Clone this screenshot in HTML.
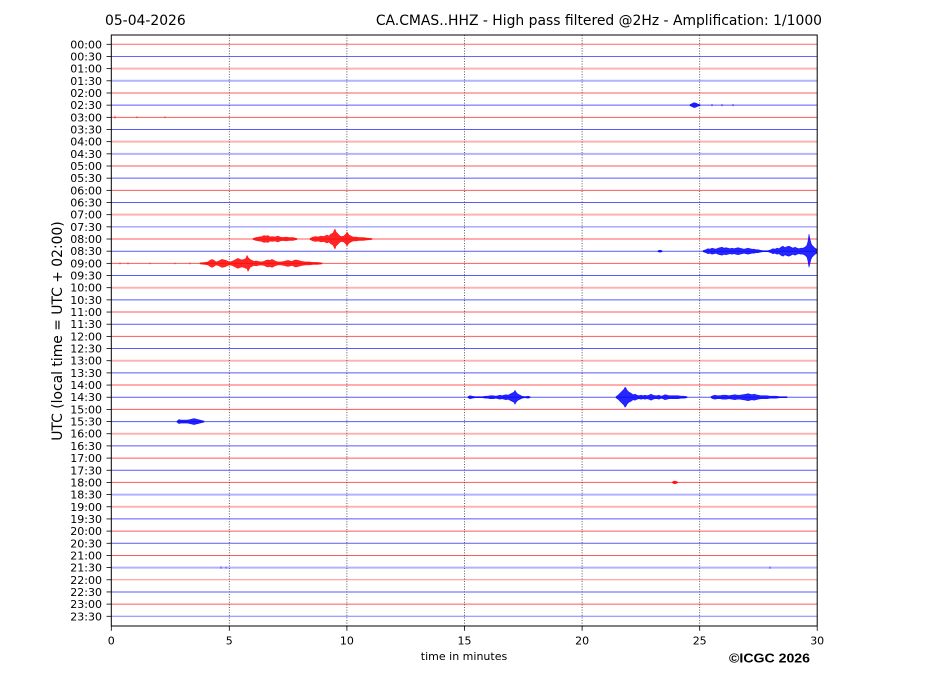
<!DOCTYPE html>
<html><head><meta charset="utf-8"><style>
html,body{margin:0;padding:0;background:#fff;}
svg{display:block;}
text{font-family:"DejaVu Sans","Liberation Sans",sans-serif;fill:#000;}
</style></head><body>
<svg width="927" height="696" viewBox="0 0 927 696" xmlns="http://www.w3.org/2000/svg">
<rect width="927" height="696" fill="#fff"/>
<!-- titles -->
<text x="105" y="25" font-size="13.9">05-04-2026</text>
<text x="822" y="25" font-size="13.9" text-anchor="end">CA.CMAS..HHZ - High pass filtered @2Hz - Amplification: 1/1000</text>
<!-- row lines -->
<g stroke-width="1">
<line x1="111.3" x2="817" y1="44.3" y2="44.3" stroke="#ff0000" stroke-opacity="0.6"/>
<line x1="111.3" x2="817" y1="56.47" y2="56.47" stroke="#0000ff" stroke-opacity="0.6"/>
<line x1="111.3" x2="817" y1="68.64" y2="68.64" stroke="#ff0000" stroke-opacity="0.3" stroke-width="2"/>
<line x1="111.3" x2="817" y1="80.81" y2="80.81" stroke="#0000ff" stroke-opacity="0.3" stroke-width="2"/>
<line x1="111.3" x2="817" y1="92.98" y2="92.98" stroke="#ff0000" stroke-opacity="0.65"/>
<line x1="111.3" x2="817" y1="105.15" y2="105.15" stroke="#0000ff" stroke-opacity="0.65"/>
<line x1="111.3" x2="817" y1="117.32" y2="117.32" stroke="#ff0000" stroke-opacity="0.65"/>
<line x1="111.3" x2="817" y1="129.49" y2="129.49" stroke="#0000ff" stroke-opacity="0.65"/>
<line x1="111.3" x2="817" y1="141.66" y2="141.66" stroke="#ff0000" stroke-opacity="0.3" stroke-width="2"/>
<line x1="111.3" x2="817" y1="153.83" y2="153.83" stroke="#0000ff" stroke-opacity="0.3" stroke-width="2"/>
<line x1="111.3" x2="817" y1="166.0" y2="166.0" stroke="#ff0000" stroke-opacity="0.65"/>
<line x1="111.3" x2="817" y1="178.17" y2="178.17" stroke="#0000ff" stroke-opacity="0.65"/>
<line x1="111.3" x2="817" y1="190.34" y2="190.34" stroke="#ff0000" stroke-opacity="0.65"/>
<line x1="111.3" x2="817" y1="202.51" y2="202.51" stroke="#0000ff" stroke-opacity="0.65"/>
<line x1="111.3" x2="817" y1="214.68" y2="214.68" stroke="#ff0000" stroke-opacity="0.3" stroke-width="2"/>
<line x1="111.3" x2="817" y1="226.85" y2="226.85" stroke="#0000ff" stroke-opacity="0.5"/>
<line x1="111.3" x2="817" y1="239.02" y2="239.02" stroke="#ff0000" stroke-opacity="0.65"/>
<line x1="111.3" x2="817" y1="251.19" y2="251.19" stroke="#0000ff" stroke-opacity="0.65"/>
<line x1="111.3" x2="817" y1="263.36" y2="263.36" stroke="#ff0000" stroke-opacity="0.65"/>
<line x1="111.3" x2="817" y1="275.53" y2="275.53" stroke="#0000ff" stroke-opacity="0.65"/>
<line x1="111.3" x2="817" y1="287.7" y2="287.7" stroke="#ff0000" stroke-opacity="0.3" stroke-width="2"/>
<line x1="111.3" x2="817" y1="299.87" y2="299.87" stroke="#0000ff" stroke-opacity="0.65"/>
<line x1="111.3" x2="817" y1="312.04" y2="312.04" stroke="#ff0000" stroke-opacity="0.65"/>
<line x1="111.3" x2="817" y1="324.21" y2="324.21" stroke="#0000ff" stroke-opacity="0.65"/>
<line x1="111.3" x2="817" y1="336.38" y2="336.38" stroke="#ff0000" stroke-opacity="0.65"/>
<line x1="111.3" x2="817" y1="348.55" y2="348.55" stroke="#0000ff" stroke-opacity="0.65"/>
<line x1="111.3" x2="817" y1="360.72" y2="360.72" stroke="#ff0000" stroke-opacity="0.3" stroke-width="2"/>
<line x1="111.3" x2="817" y1="372.89" y2="372.89" stroke="#0000ff" stroke-opacity="0.65"/>
<line x1="111.3" x2="817" y1="385.06" y2="385.06" stroke="#ff0000" stroke-opacity="0.65"/>
<line x1="111.3" x2="817" y1="397.23" y2="397.23" stroke="#0000ff" stroke-opacity="0.65"/>
<line x1="111.3" x2="817" y1="409.4" y2="409.4" stroke="#ff0000" stroke-opacity="0.65"/>
<line x1="111.3" x2="817" y1="421.57" y2="421.57" stroke="#0000ff" stroke-opacity="0.65"/>
<line x1="111.3" x2="817" y1="433.74" y2="433.74" stroke="#ff0000" stroke-opacity="0.3" stroke-width="2"/>
<line x1="111.3" x2="817" y1="445.91" y2="445.91" stroke="#0000ff" stroke-opacity="0.65"/>
<line x1="111.3" x2="817" y1="458.08" y2="458.08" stroke="#ff0000" stroke-opacity="0.65"/>
<line x1="111.3" x2="817" y1="470.25" y2="470.25" stroke="#0000ff" stroke-opacity="0.65"/>
<line x1="111.3" x2="817" y1="482.42" y2="482.42" stroke="#ff0000" stroke-opacity="0.65"/>
<line x1="111.3" x2="817" y1="494.59" y2="494.59" stroke="#0000ff" stroke-opacity="0.3" stroke-width="2"/>
<line x1="111.3" x2="817" y1="506.76" y2="506.76" stroke="#ff0000" stroke-opacity="0.3" stroke-width="2"/>
<line x1="111.3" x2="817" y1="518.93" y2="518.93" stroke="#0000ff" stroke-opacity="0.65"/>
<line x1="111.3" x2="817" y1="531.1" y2="531.1" stroke="#ff0000" stroke-opacity="0.65"/>
<line x1="111.3" x2="817" y1="543.27" y2="543.27" stroke="#0000ff" stroke-opacity="0.65"/>
<line x1="111.3" x2="817" y1="555.44" y2="555.44" stroke="#ff0000" stroke-opacity="0.65"/>
<line x1="111.3" x2="817" y1="567.61" y2="567.61" stroke="#0000ff" stroke-opacity="0.3" stroke-width="2"/>
<line x1="111.3" x2="817" y1="579.78" y2="579.78" stroke="#ff0000" stroke-opacity="0.45"/>
<line x1="111.3" x2="817" y1="591.95" y2="591.95" stroke="#0000ff" stroke-opacity="0.65"/>
<line x1="111.3" x2="817" y1="604.12" y2="604.12" stroke="#ff0000" stroke-opacity="0.65"/>
<line x1="111.3" x2="817" y1="616.29" y2="616.29" stroke="#0000ff" stroke-opacity="0.5"/>
</g>
<!-- vertical dotted grid -->
<g stroke="#333" stroke-width="0.8" stroke-dasharray="1,1.6">
<line x1="229.3" x2="229.3" y1="35" y2="626"/>
<line x1="346.9" x2="346.9" y1="35" y2="626"/>
<line x1="464.5" x2="464.5" y1="35" y2="626"/>
<line x1="582.1" x2="582.1" y1="35" y2="626"/>
<line x1="699.7" x2="699.7" y1="35" y2="626"/>
</g>
<!-- waveforms red -->
<g fill="#ff0000" fill-opacity="0.85" stroke="#ff0000" stroke-opacity="0.8" stroke-width="0.6" stroke-linejoin="round">
<polygon points="253,238.5 256,237.5 259,237 262,236.5 264,235.5 266,236 268,235.5 270,237 272,236.5 275,237 278,236 280,237 283,237.5 286,237 289,237.5 293,237.5 297,238.5 297,239.5 293,240.5 289,240.5 286,241 283,240.5 280,241 278,242 275,241 272,241.5 270,241 268,242.5 266,242 264,242.5 262,241.5 259,241 256,240.5 253,239.5"/>
<polygon points="310,238.5 313,237 316,236.5 318,237 321,236 323,236.5 325,236 327,235 329,236 331,234 333,233 335,229 336,232 338,234 340,236 342,236.5 344,236 346,234 347,232 349,235 351,236 353,237 356,237 359,237.5 363,237.5 367,238 372,238.5 372,239.5 367,240 363,240.5 359,240.5 356,241 353,241 351,242 349,243 347,246 346,244 344,242 342,241.5 340,242 338,244 336,246 335,249 333,245 331,244 329,242 327,243 325,242 323,241.5 321,242 318,241 316,241.5 313,241 310,239.5"/>
<polygon points="200,262.9 205,262.4 208,261.9 210,260.4 212,259.4 214,260.4 216,261.9 218,261.4 220,260.4 222,259.4 224,259.9 226,260.4 228,261.4 230,261.9 232,261.4 234,260.4 236,259.4 238,258.4 240,259.4 242,259.9 244,259.4 246,258.4 247,255.4 248,257.4 250,259.4 252,260.4 254,261.4 256,260.9 258,261.4 261,261.9 264,261.4 266,260.4 268,259.9 270,260.4 272,259.4 274,260.4 276,261.4 278,261.9 281,261.9 284,261.4 286,260.9 288,260.4 290,260.9 292,261.4 294,260.4 296,259.9 298,260.4 300,260.9 302,261.4 305,261.9 309,261.9 313,262.4 317,262.4 322,262.9 322,263.9 317,264.4 313,264.4 309,264.9 305,264.9 302,265.4 300,265.9 298,266.4 296,266.9 294,266.4 292,265.4 290,265.9 288,266.4 286,265.9 284,265.4 281,264.9 278,264.9 276,265.4 274,266.4 272,267.4 270,266.4 268,266.9 266,266.4 264,265.4 261,264.9 258,265.4 256,265.9 254,265.4 252,266.4 250,267.4 248,271.4 247,268.4 246,268.4 244,267.4 242,266.9 240,267.4 238,268.4 236,267.4 234,266.4 232,265.4 230,264.9 228,265.4 226,266.4 224,266.9 222,267.4 220,266.4 218,265.4 216,264.9 214,266.4 212,267.4 210,266.4 208,264.9 205,264.4 200,263.9"/>
<polygon points="672,482.4 674,481 676,481.2 678,482.4 676,483.6 674,483.8"/>
</g>
<g stroke="#ff0000" stroke-width="1" stroke-opacity="0.6">
<line x1="115" x2="115" y1="115.8" y2="118.8"/>
<line x1="137" x2="137" y1="116.3" y2="118.3"/>
<line x1="165" x2="165" y1="116.3" y2="118.3"/>
<line x1="120" x2="120" y1="262.4" y2="264.4"/>
<line x1="128" x2="128" y1="262.4" y2="264.4"/>
<line x1="150" x2="150" y1="262.6" y2="264.2"/>
<line x1="175" x2="175" y1="262.6" y2="264.2"/>
<line x1="190" x2="190" y1="262.4" y2="264.4"/>
</g>
<!-- waveforms blue -->
<g fill="#0000ff" fill-opacity="0.85" stroke="#0000ff" stroke-opacity="0.8" stroke-width="0.6" stroke-linejoin="round">
<polygon points="703,250.7 706,249.7 708,248.7 710,249.2 712,248.2 714,248.7 716,249.2 718,248.2 720,247.7 722,247.2 724,248.2 726,247.7 728,248.2 730,248.7 732,248.2 734,248.7 736,248.2 738,247.7 740,248.2 742,248.7 744,249.2 746,248.7 748,248.2 750,248.7 752,249.2 754,249.2 756,249.7 758,249.7 760,250.2 763,250.7 768,250.7 771,249.7 773,248.7 775,249.2 777,248.2 779,248.7 781,247.2 783,246.2 785,247.7 787,246.7 789,246.2 791,247.2 793,248.2 795,247.2 797,248.2 799,248.7 801,248.2 803,248.2 805,247.2 807,245.2 808,241.2 809,234.2 810,239.2 811,243.2 812,245.2 813,246.2 814,247.2 815,248.2 817,249.2 817,253.2 815,254.2 814,255.2 813,256.2 812,257.2 811,259.2 810,263.2 809,267.2 808,261.2 807,257.2 805,255.2 803,254.2 801,254.2 799,253.7 797,254.2 795,255.2 793,254.2 791,255.2 789,256.2 787,255.7 785,254.7 783,256.2 781,255.2 779,253.7 777,254.2 775,253.2 773,253.7 771,252.7 768,251.7 763,251.7 760,252.2 758,252.7 756,252.7 754,253.2 752,253.2 750,253.7 748,254.2 746,253.7 744,253.2 742,253.7 740,254.2 738,254.7 736,254.2 734,253.7 732,254.2 730,253.7 728,254.2 726,254.7 724,254.2 722,255.2 720,254.7 718,254.2 716,253.2 714,253.7 712,254.2 710,253.2 708,253.7 706,252.7 703,251.7"/>
<polygon points="468,396.7 470,395.7 472,396.2 475,396.7 482,396.7 486,396.2 488,396.2 490,395.7 493,395.7 496,396.2 498,395.7 500,395.2 502,395.7 504,395.2 506,394.7 508,395.2 510,394.2 512,393.2 514,392.2 515,390.2 516,392.2 518,394.2 520,395.2 522,396.2 525,396.7 528,396.2 530,396.7 530,397.7 528,398.2 525,397.7 522,398.2 520,399.2 518,400.2 516,402.2 515,404.2 514,402.2 512,401.2 510,400.2 508,399.2 506,399.7 504,399.2 502,398.7 500,399.2 498,398.7 496,398.2 493,398.7 490,398.7 488,398.2 486,398.2 482,397.7 475,397.7 472,398.2 470,398.7 468,397.7"/>
<polygon points="616,396.7 618,395.2 620,393.2 622,391.2 624,389.2 625,387.2 626,388.2 627,390.2 629,392.2 631,393.2 633,394.7 635,394.2 637,395.2 639,395.7 641,395.2 643,395.7 645,395.2 647,395.7 649,395.2 651,394.2 653,395.2 655,395.7 657,395.7 659,395.2 661,396.2 663,395.7 665,394.7 667,395.2 669,395.7 672,395.7 675,395.7 678,395.7 681,396.2 684,396.2 687,396.7 687,397.7 684,398.2 681,398.2 678,398.7 675,398.7 672,398.7 669,398.7 667,399.2 665,399.7 663,398.7 661,398.2 659,399.2 657,398.7 655,398.7 653,399.2 651,400.2 649,399.2 647,398.7 645,399.2 643,398.7 641,399.2 639,398.7 637,399.2 635,400.2 633,399.7 631,401.2 629,402.2 627,404.2 626,406.2 625,407.2 624,405.2 622,403.2 620,401.2 618,399.2 616,397.7"/>
<polygon points="711,396.7 713,395.7 715,395.2 717,395.7 720,395.7 723,395.2 726,395.2 729,395.7 732,395.2 735,394.7 737,395.2 740,395.2 743,394.7 746,394.2 748,393.7 750,394.2 752,394.7 754,394.2 756,394.7 758,395.2 761,395.7 764,395.7 767,395.7 770,396.2 773,396.2 776,396.2 780,396.7 787,396.7 787,397.7 780,397.7 776,398.2 773,398.2 770,398.2 767,398.7 764,398.7 761,398.7 758,399.2 756,399.7 754,400.2 752,399.7 750,400.2 748,400.7 746,400.2 743,399.7 740,399.2 737,399.2 735,399.7 732,399.2 729,398.7 726,399.2 723,399.2 720,398.7 717,398.7 715,399.2 713,398.7 711,397.7"/>
<polygon points="177,421.1 179,419.6 181,420.1 184,420.1 187,420.1 190,419.6 192,419.1 194,418.6 196,419.1 198,419.6 200,420.1 202,420.6 204,421.1 204,422.1 202,422.6 200,423.1 198,423.6 196,424.1 194,424.6 192,424.1 190,423.6 187,423.1 184,423.1 181,423.1 179,423.6 177,422.1"/>
<polygon points="690,104.65 692,103.65 694,102.65 696,103.15 698,104.15 700,104.65 700,105.65 698,106.15 696,107.15 694,107.65 692,106.65 690,105.65"/>
<polygon points="658,250.7 660,250.2 662,250.7 662,251.7 660,252.2 658,251.7"/>
</g>
<g stroke="#0000ff" stroke-width="1" stroke-opacity="0.6">
<line x1="712" x2="712" y1="104" y2="106.3"/>
<line x1="722" x2="722" y1="104" y2="106.3"/>
<line x1="733" x2="733" y1="104" y2="106.3"/>
<line x1="770" x2="770" y1="566.5" y2="568.7"/>
<line x1="221" x2="221" y1="566.4" y2="568.8"/>
<line x1="226" x2="226" y1="566.6" y2="568.6"/>
</g>
<!-- axes frame -->
<rect x="111.3" y="35" width="705.9" height="591" fill="none" stroke="#000" stroke-width="1"/>
<!-- ticks -->
<g stroke="#000" stroke-width="0.8">
<line x1="106.5" x2="111.3" y1="44.3" y2="44.3"/><line x1="106.5" x2="111.3" y1="56.47" y2="56.47"/><line x1="106.5" x2="111.3" y1="68.64" y2="68.64"/><line x1="106.5" x2="111.3" y1="80.81" y2="80.81"/><line x1="106.5" x2="111.3" y1="92.98" y2="92.98"/><line x1="106.5" x2="111.3" y1="105.15" y2="105.15"/><line x1="106.5" x2="111.3" y1="117.32" y2="117.32"/><line x1="106.5" x2="111.3" y1="129.49" y2="129.49"/><line x1="106.5" x2="111.3" y1="141.66" y2="141.66"/><line x1="106.5" x2="111.3" y1="153.83" y2="153.83"/><line x1="106.5" x2="111.3" y1="166.0" y2="166.0"/><line x1="106.5" x2="111.3" y1="178.17" y2="178.17"/><line x1="106.5" x2="111.3" y1="190.34" y2="190.34"/><line x1="106.5" x2="111.3" y1="202.51" y2="202.51"/><line x1="106.5" x2="111.3" y1="214.68" y2="214.68"/><line x1="106.5" x2="111.3" y1="226.85" y2="226.85"/><line x1="106.5" x2="111.3" y1="239.02" y2="239.02"/><line x1="106.5" x2="111.3" y1="251.19" y2="251.19"/><line x1="106.5" x2="111.3" y1="263.36" y2="263.36"/><line x1="106.5" x2="111.3" y1="275.53" y2="275.53"/><line x1="106.5" x2="111.3" y1="287.7" y2="287.7"/><line x1="106.5" x2="111.3" y1="299.87" y2="299.87"/><line x1="106.5" x2="111.3" y1="312.04" y2="312.04"/><line x1="106.5" x2="111.3" y1="324.21" y2="324.21"/><line x1="106.5" x2="111.3" y1="336.38" y2="336.38"/><line x1="106.5" x2="111.3" y1="348.55" y2="348.55"/><line x1="106.5" x2="111.3" y1="360.72" y2="360.72"/><line x1="106.5" x2="111.3" y1="372.89" y2="372.89"/><line x1="106.5" x2="111.3" y1="385.06" y2="385.06"/><line x1="106.5" x2="111.3" y1="397.23" y2="397.23"/><line x1="106.5" x2="111.3" y1="409.4" y2="409.4"/><line x1="106.5" x2="111.3" y1="421.57" y2="421.57"/><line x1="106.5" x2="111.3" y1="433.74" y2="433.74"/><line x1="106.5" x2="111.3" y1="445.91" y2="445.91"/><line x1="106.5" x2="111.3" y1="458.08" y2="458.08"/><line x1="106.5" x2="111.3" y1="470.25" y2="470.25"/><line x1="106.5" x2="111.3" y1="482.42" y2="482.42"/><line x1="106.5" x2="111.3" y1="494.59" y2="494.59"/><line x1="106.5" x2="111.3" y1="506.76" y2="506.76"/><line x1="106.5" x2="111.3" y1="518.93" y2="518.93"/><line x1="106.5" x2="111.3" y1="531.1" y2="531.1"/><line x1="106.5" x2="111.3" y1="543.27" y2="543.27"/><line x1="106.5" x2="111.3" y1="555.44" y2="555.44"/><line x1="106.5" x2="111.3" y1="567.61" y2="567.61"/><line x1="106.5" x2="111.3" y1="579.78" y2="579.78"/><line x1="106.5" x2="111.3" y1="591.95" y2="591.95"/><line x1="106.5" x2="111.3" y1="604.12" y2="604.12"/><line x1="106.5" x2="111.3" y1="616.29" y2="616.29"/>
<line x1="111.3" x2="111.3" y1="626" y2="630.8"/><line x1="229.3" x2="229.3" y1="626" y2="630.8"/><line x1="346.9" x2="346.9" y1="626" y2="630.8"/><line x1="464.5" x2="464.5" y1="626" y2="630.8"/><line x1="582.1" x2="582.1" y1="626" y2="630.8"/><line x1="699.7" x2="699.7" y1="626" y2="630.8"/><line x1="817.2" x2="817.2" y1="626" y2="630.8"/>
</g>
<!-- y tick labels -->
<g font-size="11" text-anchor="end">
<text x="102" y="48.3">00:00</text><text x="102" y="60.47">00:30</text><text x="102" y="72.64">01:00</text><text x="102" y="84.81">01:30</text><text x="102" y="96.98">02:00</text><text x="102" y="109.15">02:30</text><text x="102" y="121.32">03:00</text><text x="102" y="133.49">03:30</text><text x="102" y="145.66">04:00</text><text x="102" y="157.83">04:30</text><text x="102" y="170.0">05:00</text><text x="102" y="182.17">05:30</text><text x="102" y="194.34">06:00</text><text x="102" y="206.51">06:30</text><text x="102" y="218.68">07:00</text><text x="102" y="230.85">07:30</text><text x="102" y="243.02">08:00</text><text x="102" y="255.19">08:30</text><text x="102" y="267.36">09:00</text><text x="102" y="279.53">09:30</text><text x="102" y="291.7">10:00</text><text x="102" y="303.87">10:30</text><text x="102" y="316.04">11:00</text><text x="102" y="328.21">11:30</text><text x="102" y="340.38">12:00</text><text x="102" y="352.55">12:30</text><text x="102" y="364.72">13:00</text><text x="102" y="376.89">13:30</text><text x="102" y="389.06">14:00</text><text x="102" y="401.23">14:30</text><text x="102" y="413.4">15:00</text><text x="102" y="425.57">15:30</text><text x="102" y="437.74">16:00</text><text x="102" y="449.91">16:30</text><text x="102" y="462.08">17:00</text><text x="102" y="474.25">17:30</text><text x="102" y="486.42">18:00</text><text x="102" y="498.59">18:30</text><text x="102" y="510.76">19:00</text><text x="102" y="522.93">19:30</text><text x="102" y="535.1">20:00</text><text x="102" y="547.27">20:30</text><text x="102" y="559.44">21:00</text><text x="102" y="571.61">21:30</text><text x="102" y="583.78">22:00</text><text x="102" y="595.95">22:30</text><text x="102" y="608.12">23:00</text><text x="102" y="620.29">23:30</text>
</g>
<!-- x tick labels -->
<g font-size="11" text-anchor="middle">
<text x="111.3" y="644.5">0</text><text x="229.3" y="644.5">5</text><text x="346.9" y="644.5">10</text><text x="464.5" y="644.5">15</text><text x="582.1" y="644.5">20</text><text x="699.7" y="644.5">25</text><text x="817.2" y="644.5">30</text>
</g>
<text x="464" y="660" font-size="11" text-anchor="middle">time in minutes</text>
<text transform="translate(62,331) rotate(-90)" font-size="13.9" text-anchor="middle">UTC (local time = UTC + 02:00)</text>
<text x="729" y="662.5" font-size="12.6" font-weight="bold" style="font-family:'Liberation Sans',Arial,sans-serif" textLength="81" lengthAdjust="spacingAndGlyphs">©ICGC 2026</text>
</svg>
</body></html>
